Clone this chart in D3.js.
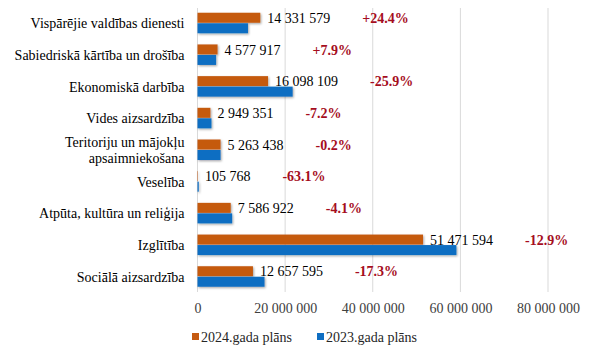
<!DOCTYPE html>
<html>
<head>
<meta charset="utf-8">
<script src="https://cdn.jsdelivr.net/npm/d3@7"></script>
<style>
    body { margin: 0; background: #fff; }
</style>
</head>
<body>
<div id="chart"></div>
<script>
const categories = [
    "Vispārējie valdības dienesti",
    "Sabiedriskā kārtība un drošība",
    "Ekonomiskā darbība",
    "Vides aizsardzība",
    "Teritoriju un mājokļu|apsaimniekošana",
    "Veselība",
    "Atpūta, kultūra un reliģija",
    "Izglītība",
    "Sociālā aizsardzība"
];
const plan2024 = [14331579, 4577917, 16098109, 2949351, 5263438, 105768, 7586922, 51471594, 12657595];
const plan2023 = [11520000, 4240000, 21720000, 3180000, 5270000, 290000, 7910000, 59090000, 15300000];
const changeLabels = ["+24.4%", "+7.9%", "-25.9%", "-7.2%", "-0.2%", "-63.1%", "-4.1%", "-12.9%", "-17.3%"];
const xTicks = [0, 20000000, 40000000, 60000000, 80000000];
const seriesNames = ["2024.gada plāns", "2023.gada plāns"];

const colors = { "2024": "#C55A11", "2023": "#0F6EC2" };
const FONT = '"Liberation Serif"';

const W = 605, H = 350;
const margin = { top: 8, right: 57, bottom: 58, left: 197.5 };
const width = W - margin.left - margin.right;
const height = H - margin.top - margin.bottom;

const fmt = d => d3.format(",")(d).replace(/,/g, " ");

const svg = d3.select("#chart").append("svg")
    .attr("width", W)
    .attr("height", H);

const defs = svg.append("defs");
const shadow = defs.append("filter").attr("id", "shadow")
    .attr("x", "-5%").attr("y", "-20%").attr("width", "115%").attr("height", "160%");
shadow.append("feDropShadow")
    .attr("dx", 1).attr("dy", 1.2).attr("stdDeviation", 0.8)
    .attr("flood-color", "#000").attr("flood-opacity", 0.35);

const g = svg.append("g").attr("transform", `translate(${margin.left},${margin.top})`);

const x = d3.scaleLinear().domain([0, 80000000]).range([0, width]);
const y = d3.scaleBand().domain(categories).range([0, height]).paddingInner(0.337).paddingOuter(0.15);
const ySub = d3.scaleBand().domain(["2024", "2023"]).range([0, y.bandwidth()]);

// gridlines
g.append("g")
    .selectAll("line")
    .data(xTicks)
    .join("line")
    .attr("x1", d => x(d)).attr("x2", d => x(d))
    .attr("y1", 0).attr("y2", height)
    .attr("stroke", "#D9D9D9")
    .attr("stroke-width", 1);

// x axis labels
const xAxis = d3.axisBottom(x)
    .tickValues(xTicks)
    .tickSize(0)
    .tickPadding(11)
    .tickFormat(fmt);

g.append("g")
    .attr("transform", `translate(0,${height})`)
    .call(xAxis)
    .call(a => a.select(".domain").remove())
    .call(a => a.selectAll("text")
        .style("font-family", FONT)
        .style("font-size", "14px")
        .attr("fill", "#404040"));

// category labels
const catG = g.append("g");
categories.forEach(c => {
    const lines = c.split("|");
    const cy = y(c) + y.bandwidth() / 2;
    const t = catG.append("text")
        .attr("x", -13)
        .attr("y", cy)
        .attr("text-anchor", "end")
        .style("font-family", FONT)
        .style("font-size", "14px")
        .attr("fill", "#000");
    lines.forEach((ln, i) => {
        t.append("tspan")
            .attr("x", -13)
            .attr("dy", i === 0 ? `${0.35 - (lines.length - 1) * 0.55}em` : "1.1em")
            .text(ln);
    });
});

// bars
const rows = categories.map((c, i) => ({ cat: c, v24: plan2024[i], v23: plan2023[i], change: changeLabels[i] }));

const barG = g.append("g").attr("filter", "url(#shadow)");
barG.selectAll(".bar24")
    .data(rows)
    .join("rect")
    .attr("class", "bar24")
    .attr("x", 0)
    .attr("y", d => y(d.cat) + ySub("2024"))
    .attr("width", d => x(d.v24))
    .attr("height", ySub.bandwidth() - 0.5)
    .attr("fill", colors["2024"]);

barG.selectAll(".bar23")
    .data(rows)
    .join("rect")
    .attr("class", "bar23")
    .attr("x", 0)
    .attr("y", d => y(d.cat) + ySub("2023"))
    .attr("width", d => x(d.v23))
    .attr("height", ySub.bandwidth() - 0.5)
    .attr("fill", colors["2023"]);

// value labels + change labels
const labG = g.append("g");
rows.forEach(d => {
    const cy = y(d.cat) + ySub("2024") + ySub.bandwidth() / 2;
    const val = labG.append("text")
        .attr("x", x(d.v24) + 7)
        .attr("y", cy)
        .attr("dy", "0.35em")
        .style("font-family", FONT)
        .style("font-size", "14px")
        .attr("fill", "#000")
        .text(fmt(d.v24));
    const end = x(d.v24) + 7 + val.node().getComputedTextLength();
    labG.append("text")
        .attr("x", end + 32)
        .attr("y", cy)
        .attr("dy", "0.35em")
        .style("font-family", FONT)
        .style("font-size", "14px")
        .style("font-weight", "bold")
        .attr("fill", "#A50D1D")
        .text(d.change);
});

// legend
const legend = svg.append("g").attr("transform", `translate(0, 337)`);
const legX = [192, 317];
seriesNames.forEach((name, i) => {
    const key = i === 0 ? "2024" : "2023";
    legend.append("rect")
        .attr("x", legX[i])
        .attr("y", -4)
        .attr("width", 7)
        .attr("height", 7)
        .attr("fill", colors[key]);
    legend.append("text")
        .attr("x", legX[i] + 9)
        .attr("y", 0)
        .attr("dy", "0.35em")
        .style("font-family", FONT)
        .style("font-size", "14px")
        .attr("fill", "#262626")
        .text(name);
});
</script>
</body>
</html>
